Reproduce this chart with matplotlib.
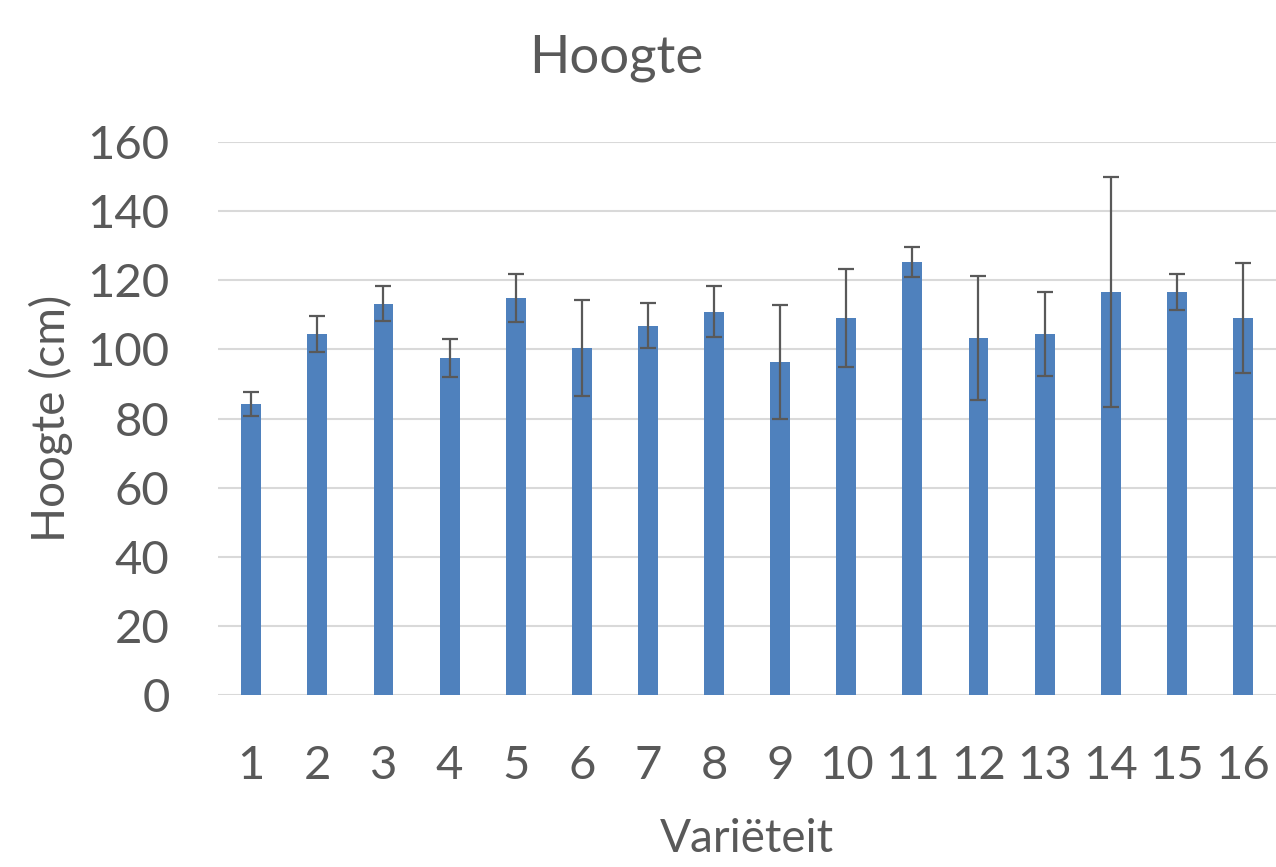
import matplotlib.pyplot as plt
import numpy as np

# Gegevens
varieteiten = [str(i) for i in range(1, 17)]
hoogte = [84.2, 104.5, 113.2, 97.5, 114.9, 100.4, 106.8, 110.9,
          96.4, 109.1, 125.3, 103.3, 104.5, 116.6, 116.6, 109.1]
fout = [3.5, 5.2, 5.0, 5.5, 7.0, 14.0, 6.5, 7.3,
        16.5, 14.2, 4.4, 18.0, 12.2, 33.3, 5.3, 16.0]

grijs = '#595959'
plt.rcParams['font.family'] = ['Lato', 'DejaVu Sans']

fig = plt.figure(figsize=(12.76, 8.67), dpi=100)
ax = fig.add_axes([0.171, 0.1984, 0.829, 0.6378])

x = np.arange(1, 17)
ax.bar(x, hoogte, width=0.3, color='#4F81BD', zorder=2)
ax.errorbar(x, hoogte, yerr=fout, fmt='none', ecolor=grijs, elinewidth=1.6,
            capsize=6, capthick=1.6, zorder=3)

ax.set_xlim(0.5, 16.5)
ax.set_ylim(0, 160)
ax.set_yticks(range(0, 161, 20))
ax.set_xticks(x)
ax.set_xticklabels(varieteiten)
ax.grid(axis='y', color='#D9D9D9', linewidth=1.5, zorder=0)
ax.set_axisbelow(True)
for s in ax.spines.values():
    s.set_visible(False)
ax.tick_params(length=0, labelsize=34, colors=grijs)
ax.tick_params(axis='y', pad=35)
ax.tick_params(axis='x', pad=36)

ax.set_title('Hoogte', fontsize=38, color=grijs, pad=50, x=0.376)
ax.set_xlabel('Variëteit', fontsize=33, color=grijs, labelpad=22)
ax.set_ylabel('Hoogte (cm)', fontsize=33, color=grijs, labelpad=10)

fig.savefig('out.png', dpi=100)
